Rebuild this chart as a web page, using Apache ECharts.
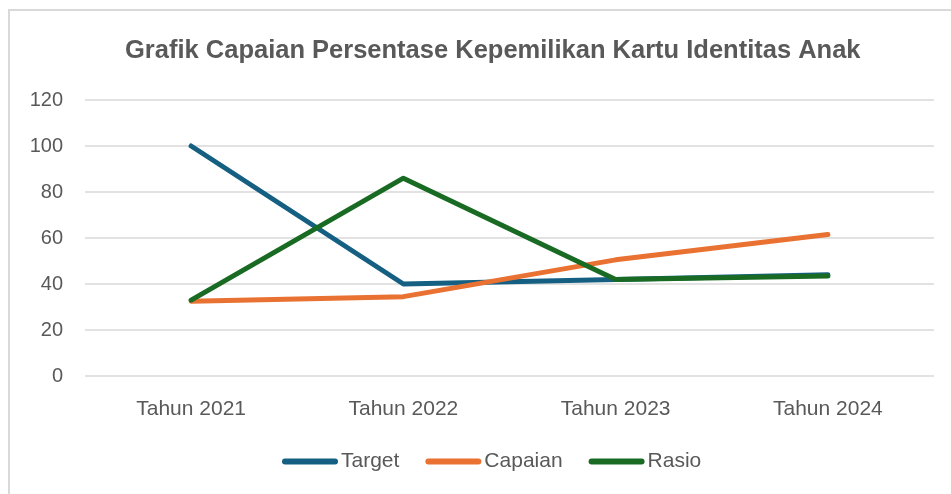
<!DOCTYPE html>
<html>
<head>
<meta charset="utf-8">
<style>
html, body { margin: 0; padding: 0; background: #fff; overflow: hidden; }
#frame {
    position: absolute;
    left: 8px; top: 9px; right: -10px; bottom: -10px;
    border-left: 2px solid #d9d9d9;
    border-top: 2px solid #d9d9d9;
}
#chart-panel {
    position: absolute;
    left: 0; top: 0;
    width: 951px; height: 494px;
}
</style>
<script src="https://cdn.jsdelivr.net/npm/echarts@6/dist/echarts.min.js"></script>
</head>
<body>
<div id="frame"></div>
<div id="chart-panel"></div>
<script type="text/javascript">
// data
var years = ['Tahun 2021', 'Tahun 2022', 'Tahun 2023', 'Tahun 2024'];
var target = [100, 40, 42, 44];
var capaian = [32.5, 34.5, 50.5, 61.5];
var rasio = [33, 86, 42, 43.5];

var textColor = '#595959';
var fontName = '"Liberation Sans", Arial, sans-serif';
// capsule shaped legend marker, like the rounded line ends
var capsule = 'path://M3,0 H53 A3,3 0 0 1 53,6 H3 A3,3 0 0 1 3,0 Z';

var myChart = echarts.init(document.getElementById('chart-panel'));

function lineSeries(name, data, color) {
    return {
        name: name,
        type: 'line',
        data: data,
        symbol: 'none',
        lineStyle: { width: 5, color: color, cap: 'round', join: 'round' },
        itemStyle: { color: color },
        emphasis: { disabled: true }
    };
}

var option = {
    animation: false,
    title: {
        text: 'Grafik Capaian Persentase Kepemilikan Kartu Identitas Anak',
        left: 120,
        top: 33,
        textStyle: { color: textColor, fontSize: 25.5, fontWeight: 'bold', fontFamily: fontName }
    },
    legend: {
        bottom: 17,
        left: 277,
        icon: capsule,
        itemWidth: 56,
        itemHeight: 6,
        itemGap: 26,
        textStyle: { color: textColor, fontSize: 21, fontFamily: fontName, padding: [0, 0, 0, -2] },
        data: ['Target', 'Capaian', 'Rasio']
    },
    grid: { left: 85, right: 17, top: 100, bottom: 118, containLabel: false },
    xAxis: {
        type: 'category',
        data: years,
        boundaryGap: true,
        axisLine: { show: false },
        axisTick: { show: false },
        axisLabel: { color: textColor, fontSize: 21, fontFamily: fontName, margin: 23 }
    },
    yAxis: {
        type: 'value',
        min: 0,
        max: 120,
        interval: 20,
        axisLine: { show: false },
        axisTick: { show: false },
        axisLabel: { color: textColor, fontSize: 20, fontFamily: fontName, margin: 22 },
        splitLine: { lineStyle: { color: '#d9d9d9', width: 1.5 } }
    },
    series: [
        lineSeries('Target', target, '#156082'),
        lineSeries('Capaian', capaian, '#e97132'),
        lineSeries('Rasio', rasio, '#196b24')
    ]
};

myChart.setOption(option);
</script>
</body>
</html>
